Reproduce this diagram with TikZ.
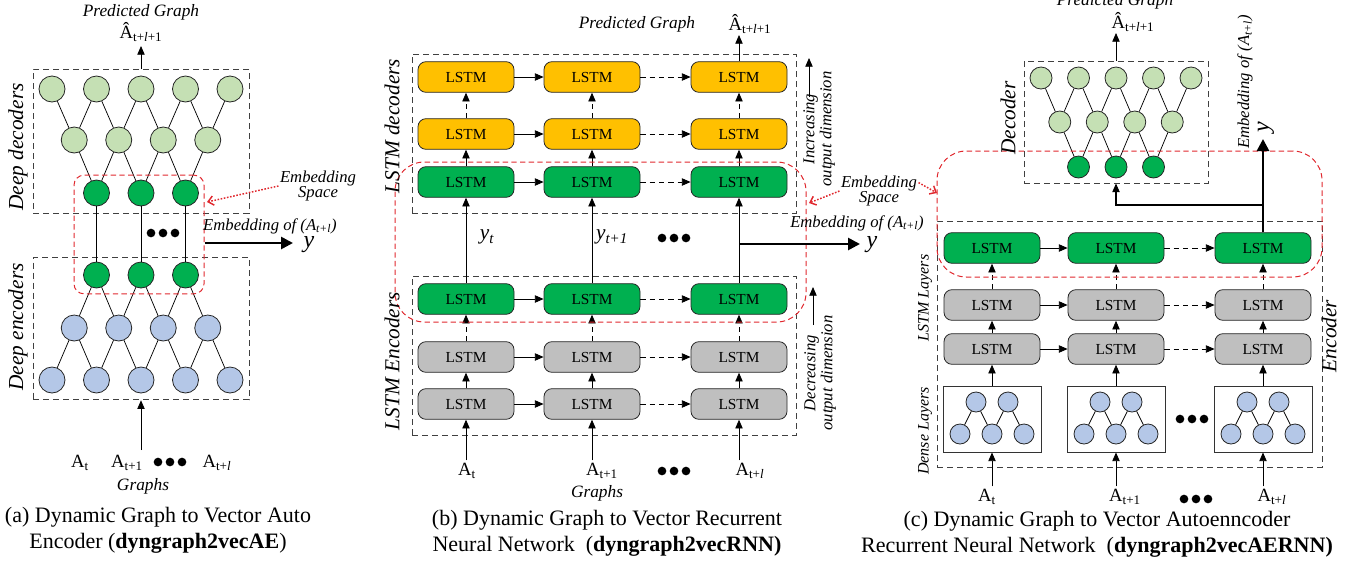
\documentclass[tikz,border=0pt]{standalone}
\usepackage{fontspec}
\setmainfont{Liberation Serif}
\usetikzlibrary{arrows.meta,calc}
\definecolor{lgreen}{HTML}{C5E0B4}
\definecolor{dgreen}{HTML}{00B050}
\definecolor{lblue}{HTML}{B4C7E7}
\definecolor{lorange}{HTML}{FFC000}
\definecolor{lgray}{HTML}{BFBFBF}
\definecolor{ered}{HTML}{E0282E}
\definecolor{boxgray}{HTML}{404040}
\newcommand\dotrow[3]{%
  \foreach \k/\dd in {1/-12,2/0,3/12}{\node[dotn] (#1-\k) at ({#2+\dd},#3) {};}}
\begin{document}
\begin{tikzpicture}[x=0.75pt,y=-0.75pt,
 neu/.style={circle,draw=black!85,line width=0.6pt,inner sep=0pt,minimum size=19.5pt},
 sneu/.style={neu,minimum size=16.5pt},
 dneu/.style={neu,minimum size=15pt,fill=lblue},
 lstm/.style={rectangle,rounded corners=6pt,draw=black!85,line width=0.6pt,minimum width=72pt,minimum height=23pt,inner sep=0pt,font=\fontsize{11.5}{13}\selectfont},
 dbox/.style={draw=boxgray,dash pattern=on 4.5pt off 3pt,line width=0.7pt,inner sep=0pt},
 rbox/.style={draw=ered,dash pattern=on 4pt off 2.5pt,line width=0.75pt,inner sep=0pt,rounded corners=22pt},
 densebox/.style={draw=black!80,line width=0.7pt,minimum width=73.5pt,minimum height=49.5pt,inner sep=0pt},
 lnk/.style={draw=black,line width=0.55pt},
 arr/.style={-{Triangle[length=6.5pt,width=5.5pt]},line width=0.6pt},
 darr/.style={arr,dash pattern=on 4pt off 3pt},
 tarr/.style={-{Triangle[length=9pt,width=9pt]},line width=2pt},
 rarr/.style={draw=ered,dash pattern=on 1.2pt off 1.2pt,line width=1.1pt,-{Straight Barb[length=4pt,width=7pt]}},
 dotn/.style={circle,fill=black,inner sep=0pt,minimum size=6.5pt},
 captxt/.style={font=\fontsize{16.5}{19.5}\selectfont,align=center,inner sep=0pt},
 lab/.style={font=\fontsize{14}{16}\selectfont,inner sep=2pt},
 itl/.style={font=\fontsize{13}{15}\selectfont\itshape,inner sep=1pt},
 bigit/.style={font=\fontsize{16}{18}\selectfont\itshape,inner sep=1pt},
 embit/.style={font=\fontsize{12.5}{11.5}\selectfont\itshape,align=center,inner sep=1pt},
 smit/.style={font=\fontsize{12.5}{12.75}\selectfont\itshape,align=center,inner sep=1pt},
 lyrit/.style={font=\fontsize{12}{14}\selectfont\itshape,inner sep=1pt},
 yit/.style={font=\fontsize{18}{20}\selectfont\itshape,inner sep=1pt},
 ysub/.style={font=\fontsize{16}{18}\selectfont\itshape,inner sep=1pt}]
\useasboundingbox (0,0) rectangle (1368,565);

% ================= panel (a) =================
\node[dbox,minimum width=162pt,minimum height=108pt] (a-dec) at (141,141) {};
\node[dbox,minimum width=162pt,minimum height=107pt] (a-enc) at (141,328.5) {};
\foreach \i in {1,...,5}{
  \node[neu,fill=lgreen] (a-d1-\i) at ({52+44.5*(\i-1)},89) {};
  \node[neu,fill=lblue] (a-e1-\i) at ({52+44.5*(\i-1)},380) {};}
\foreach \i in {1,...,4}{
  \node[neu,fill=lgreen] (a-d2-\i) at ({74.25+44.5*(\i-1)},140) {};
  \node[neu,fill=lblue] (a-e2-\i) at ({74.25+44.5*(\i-1)},328) {};}
\foreach \i in {1,2,3}{
  \node[neu,fill=dgreen] (a-d3-\i) at ({96.5+44.5*(\i-1)},193) {};
  \node[neu,fill=dgreen] (a-e3-\i) at ({96.5+44.5*(\i-1)},275) {};}
\foreach \i/\j in {1/2,2/3,3/4,4/5}{
  \draw[lnk] (a-d2-\i)--(a-d1-\i) (a-d2-\i)--(a-d1-\j) (a-e2-\i)--(a-e1-\i) (a-e2-\i)--(a-e1-\j);}
\foreach \i/\j in {1/2,2/3,3/4}{
  \draw[lnk] (a-d3-\i)--(a-d2-\i) (a-d3-\i)--(a-d2-\j) (a-e3-\i)--(a-e2-\i) (a-e3-\i)--(a-e2-\j);}
\foreach \i in {1,2,3}{\draw[lnk] (a-d3-\i)--(a-e3-\i);}
\node[rbox,rounded corners=7.5pt,minimum width=97.5pt,minimum height=89pt] (a-emb) at (139,234.5) {};
\dotrow{a-dots}{163}{233}

\node[itl] (a-pg) at (141,12) {Predicted Graph};
\node[lab] (a-hat) at (141,32) {\^{A}\textsubscript{t+\textit{l}+1}};
\coordinate (a-top) at (141,46);
\draw[arr] (a-dec.north) -- (a-top);

\node[bigit,rotate=90] (a-dl) at (18,147) {Deep decoders};
\node[bigit,rotate=90] (a-el) at (18,327) {Deep encoders};

\node[embit] (a-es) at (318,186) {Embedding\\Space};
\coordinate (a-esend) at (207,202);
\draw[rarr] (a-es.west) -- (a-esend);

\node[embit] (a-eo) at (270,226) {Embedding of (A\textsubscript{t+l})};
\coordinate (a-yrow) at (0,243);
\coordinate (a-yend) at (293,243);
\draw[tarr] (a-emb.east |- a-yrow) -- (a-yend);
\node[yit] (a-y) at (309,245) {y};

\node[lab] (a-a1) at (80,463) {A\textsubscript{t}};
\node[lab] (a-a2) at (127,463) {A\textsubscript{t+1}};
\dotrow{a-bd}{170}{462}
\node[lab] (a-a3) at (217,463) {A\textsubscript{t+\textit{l}}};
\node[itl] (a-gr) at (143,486) {Graphs};
\coordinate (a-in) at (141,450);
\draw[arr] (a-in) -- (a-enc.south);

\node[captxt] (a-cap) at (158,530) {(a) Dynamic Graph to Vector Auto\\Encoder (\textbf{dyngraph2vecAE})};

% ================= panel (b) =================
\node[dbox,minimum width=288pt,minimum height=119.25pt] (b-dec) at (604,133.5) {};
\node[dbox,minimum width=288pt,minimum height=119.25pt] (b-enc) at (604,355.5) {};
\foreach \r/\y/\c in {1/77/lorange,2/134/lorange,3/182/dgreen,4/299/dgreen,5/357/lgray,6/404/lgray}{
  \foreach \cc/\x in {1/466,2/592,3/739}{
    \node[lstm,fill=\c] (b-\r-\cc) at (\x,\y) {LSTM};}
  \draw[arr] (b-\r-1) -- (b-\r-2);
  \draw[darr] (b-\r-2) -- (b-\r-3);}
\foreach \cc in {1,2,3}{
  \draw[darr] (b-2-\cc) -- (b-1-\cc);
  \draw[arr] (b-3-\cc) -- (b-2-\cc);
  \draw[arr] (b-4-\cc) -- (b-3-\cc);
  \draw[darr] (b-5-\cc) -- (b-4-\cc);
  \draw[arr] (b-6-\cc) -- (b-5-\cc);}
\node[rbox,minimum width=308.25pt,minimum height=120pt] (b-emb) at (600.5,242) {};

\node[itl] (b-pg) at (637,24) {Predicted Graph};
\node[lab] (b-hat) at (750,24) {\^{A}\textsubscript{t+\textit{l}+1}};
\coordinate (b-top) at (739,35);
\draw[arr] (b-1-3.north) -- (b-top);

\node[bigit,rotate=90] (b-dl) at (392,126) {LSTM decoders};
\node[bigit,rotate=90] (b-el) at (392,361) {LSTM Encoders};

\node[smit,rotate=90] (b-inc) at (819,129) {Increasing\\output dimension};
\coordinate (b-inc0) at (809,97);
\coordinate (b-inc1) at (809,58);
\draw[arr] (b-inc0) -- (b-inc1);
\node[smit,rotate=90] (b-dec2) at (820,373) {Decreasing\\output dimension};
\coordinate (b-dcr0) at (813,325);
\coordinate (b-dcr1) at (813,287);
\draw[arr] (b-dcr0) -- (b-dcr1);

\node[ysub] (b-yt) at (487,237) {y\textsubscript{t}};
\node[ysub] (b-yt1) at (612,237) {y\textsubscript{t+1}};
\dotrow{b-md}{674}{238}

\coordinate (b-yrow) at (0,244);
\coordinate (b-yend) at (860,244);
\draw[tarr] (b-4-3.north |- b-yrow) -- (b-yend);
\node[yit] (b-y) at (872,245) {y};
\node[embit] (b-eo) at (857,223) {Embedding of (A\textsubscript{t+l})};

\node[embit] (es) at (879,191) {Embedding\\Space};
\coordinate (es-l) at (809,203);
\coordinate (es-r) at (937,193);
\draw[rarr] (es.west) -- (es-l);
\draw[rarr] ($(es.east)!0.5!(es.north east)$) -- (es-r);

\node[lab] (b-a1) at (467,471) {A\textsubscript{t}};
\node[lab] (b-a2) at (602,471) {A\textsubscript{t+1}};
\dotrow{b-bd}{674}{471}
\node[lab] (b-a3) at (750,471) {A\textsubscript{t+\textit{l}}};
\node[itl] (b-gr) at (597,493) {Graphs};
\draw[arr] (b-6-1.south |- b-a1.north) -- (b-6-1.south);
\draw[arr] (b-6-2.south |- b-a2.north) -- (b-6-2.south);
\draw[arr] (b-6-3.south |- b-a3.north) -- (b-6-3.south);

\node[captxt] (b-cap) at (607,533) {(b) Dynamic Graph to Vector Recurrent\\Neural Network~ (\textbf{dyngraph2vecRNN)}};

% ================= panel (c) =================
\node[dbox,minimum width=138pt,minimum height=91.5pt] (c-dec) at (1116,122) {};
\foreach \i in {1,...,5}{\node[sneu,fill=lgreen] (c-d1-\i) at ({1041+37.5*(\i-1)},78) {};}
\foreach \i in {1,...,4}{\node[sneu,fill=lgreen] (c-d2-\i) at ({1059.75+37.5*(\i-1)},122) {};}
\foreach \i in {1,2,3}{\node[sneu,fill=dgreen] (c-d3-\i) at ({1078.5+37.5*(\i-1)},167) {};}
\foreach \i/\j in {1/2,2/3,3/4,4/5}{\draw[lnk] (c-d2-\i)--(c-d1-\i) (c-d2-\i)--(c-d1-\j);}
\foreach \i/\j in {1/2,2/3,3/4}{\draw[lnk] (c-d3-\i)--(c-d2-\i) (c-d3-\i)--(c-d2-\j);}

\node[dbox,minimum width=288.75pt,minimum height=184.5pt] (c-enc) at (1129.5,344) {};
\foreach \r/\y/\c in {1/248/dgreen,2/305/lgray,3/349/lgray}{
  \foreach \cc/\x in {1/992,2/1116,3/1263}{
    \node[lstm,fill=\c] (c-\r-\cc) at (\x,\y) {LSTM};}
  \draw[arr] (c-\r-1) -- (c-\r-2);
  \draw[darr] (c-\r-2) -- (c-\r-3);}
\foreach \cc/\x in {1/992,2/1116,3/1263}{
  \node[densebox] (c-dn-\cc) at (\x,419) {};
  \node[dneu] (c-dn-\cc-t1) at ({\x-16},402) {};
  \node[dneu] (c-dn-\cc-t2) at ({\x+16},402) {};
  \node[dneu] (c-dn-\cc-b1) at ({\x-32},434) {};
  \node[dneu] (c-dn-\cc-b2) at (\x,434) {};
  \node[dneu] (c-dn-\cc-b3) at ({\x+32},434) {};
  \draw[lnk] (c-dn-\cc-t1)--(c-dn-\cc-b1) (c-dn-\cc-t1)--(c-dn-\cc-b2)
             (c-dn-\cc-t2)--(c-dn-\cc-b2) (c-dn-\cc-t2)--(c-dn-\cc-b3);
  \draw[arr] (c-dn-\cc) -- (c-3-\cc);
  \draw[arr] (c-3-\cc) -- (c-2-\cc);
  \draw[darr] (c-2-\cc) -- (c-1-\cc);}
\dotrow{c-md}{1192}{419}
\node[rbox,minimum width=288.75pt,minimum height=94.5pt] (c-emb) at (1129.5,214) {};

\coordinate (c-jrow) at (0,205);
\coordinate (c-tiprow) at (0,139);
\coordinate (c-j) at (c-1-3.north |- c-jrow);
\draw[lnk,line width=0.8pt] (c-1-3.north) -- (c-j);
\draw[tarr] (c-j) -- (c-1-3.north |- c-tiprow);
\draw[arr,line width=0.8pt] (c-j) -| (c-dec.south);

\node[yit,rotate=90] (c-y) at (1266,127) {y};
\node[embit,rotate=90] (c-eo) at (1245,82) {Embedding of (A\textsubscript{t+l})};
\node[itl] (c-pg) at (1115,1) {Predicted Graph};
\node[lab] (c-hat) at (1133,22) {\^{A}\textsubscript{t+\textit{l}+1}};
\coordinate (c-top) at (1116,33);
\draw[arr] (c-dec.north) -- (c-top);
\node[bigit,rotate=90] (c-decl) at (1008,118) {Decoder};
\node[bigit,rotate=90] (c-encl) at (1329,336) {Encoder};
\node[lyrit,rotate=90] (c-ll) at (925,298) {LSTM Layers};
\node[lyrit,rotate=90] (c-dl) at (925,431) {Dense Layers};

\node[lab] (c-a1) at (987,497) {A\textsubscript{t}};
\node[lab] (c-a2) at (1125,497) {A\textsubscript{t+1}};
\dotrow{c-bd}{1196}{499}
\node[lab] (c-a3) at (1272,497) {A\textsubscript{t+\textit{l}}};
\draw[arr] (c-dn-1.south |- c-a1.north) -- (c-dn-1.south);
\draw[arr] (c-dn-2.south |- c-a2.north) -- (c-dn-2.south);
\draw[arr] (c-dn-3.south |- c-a3.north) -- (c-dn-3.south);

\node[captxt] (c-cap) at (1097,534.5) {(c) Dynamic Graph to Vector Autoenncoder\\Recurrent Neural Network~ (\textbf{dyngraph2vecAERNN)}};
\end{tikzpicture}
\end{document}
